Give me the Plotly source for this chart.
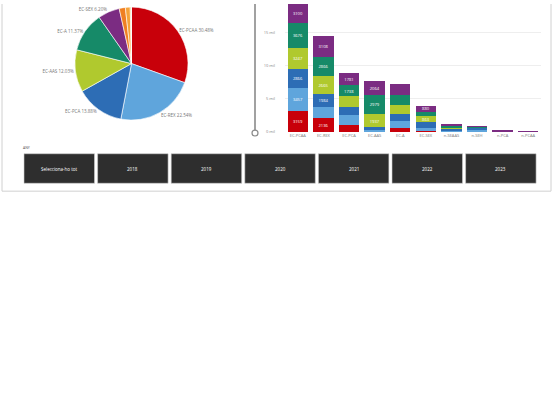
import plotly.graph_objects as go

W, H = 554, 401

categories = ["EC-PCAA", "EC-REX", "EC-PCA", "EC-AAS", "EC-A", "EC-SEX",
              "n-SEAAS", "n-SEH", "n-PCA", "n-PCAA"]
years = ["2018", "2019", "2020", "2021", "2022", "2023"]

v2018 = [3159, 2136, 1060, 0, 640, 90, 0, 0, 120, 0]
v2019 = [3457, 1667, 1457, 300, 1038, 450, 250, 300, 0, 0]
v2020 = [2866, 1984, 1317, 420, 1074, 964, 280, 380, 0, 0]
v2021 = [3247, 2665, 1527, 1937, 1263, 863, 150, 0, 0, 0]
v2022 = [3676, 2866, 1738, 2979, 1585, 720, 300, 150, 0, 0]
v2023 = [3100, 3108, 1781, 2064, 1675, 880, 150, 50, 90, 20]
series = [v2018, v2019, v2020, v2021, v2022, v2023]

year_colors = ["#c8000a", "#5fa5dc", "#2d6db5", "#b0c92e", "#168a68", "#7b2c82"]
pie_colors = ["#c8000a", "#5fa5dc", "#2d6db5", "#b0c92e", "#168a68", "#7b2c82",
              "#ef7f22", "#f5a33a", "#e9c46a", "#cccccc"]

slicer_labels = ["Selecciona-ho tot"] + years
y_ticks = [0, 5000, 10000, 15000]
y_tick_text = ["0 mil", "5 mil", "10 mil", "15 mil"]

totals = [sum(s[i] for s in series) for i in range(len(categories))]

def px_x(x):
    return x / W

def px_y(y):
    return 1 - y / H

FONT = "Open Sans"
fig = go.Figure()

# Pie
pie_tmpl = ["%{label} %{percent:.2%}"] * 6 + [""] * 4
fig.add_trace(go.Pie(
    labels=categories, values=totals, sort=False, direction="clockwise",
    rotation=0, marker=dict(colors=pie_colors, line=dict(color="white", width=0.6)),
    texttemplate=pie_tmpl, textposition="outside",
    textfont=dict(size=4.5, color="#777777", family=FONT),
    domain=dict(x=[px_x(75), px_x(188)], y=[px_y(118), px_y(3)]),
    showlegend=False, hoverinfo="skip",
))

# Stacked bars
for yr, vals, col in zip(years, series, year_colors):
    fig.add_trace(go.Bar(
        x=categories, y=vals, name=yr, marker=dict(color=col, line=dict(width=0)),
        texttemplate="%{y}", textposition="inside", insidetextanchor="middle",
        textfont=dict(size=4.5, color="white", family=FONT),
        xaxis="x", yaxis="y", showlegend=False,
    ))

fig.update_layout(
    width=W, height=H, margin=dict(l=0, r=0, t=0, b=0),
    paper_bgcolor="white", plot_bgcolor="white",
    barmode="stack", bargap=0.2, separators=".,",
    uniformtext=dict(minsize=4, mode="hide"),
    font=dict(family=FONT, size=5, color="#777777"),
    xaxis=dict(domain=[px_x(285), px_x(541)], showgrid=False, showline=False,
               tickfont=dict(size=4, color="#777777"), ticks="", fixedrange=True),
    yaxis=dict(domain=[px_y(130), px_y(0)], range=[0, 19300],
               tickvals=y_ticks, ticktext=y_tick_text, showgrid=True,
               gridcolor="#eeeeee", gridwidth=0.8, zeroline=False, showline=False,
               tickfont=dict(size=4, color="#888888"), ticks="",
               ticklabelstandoff=9),
)

shapes = []
# outer frame
shapes.append(dict(type="line", xref="paper", yref="paper", x0=px_x(2), x1=px_x(2),
                   y0=px_y(0), y1=px_y(190), line=dict(color="#d0d0d0", width=1)))
shapes.append(dict(type="line", xref="paper", yref="paper", x0=px_x(551), x1=px_x(551),
                   y0=px_y(0), y1=px_y(190), line=dict(color="#d0d0d0", width=1)))
shapes.append(dict(type="line", xref="paper", yref="paper", x0=px_x(2), x1=px_x(551),
                   y0=px_y(190), y1=px_y(190), line=dict(color="#d0d0d0", width=1)))
# zoom slider
shapes.append(dict(type="line", xref="paper", yref="paper", x0=px_x(255), x1=px_x(255),
                   y0=px_y(0), y1=px_y(128), line=dict(color="#8a8a8a", width=1.6)))
shapes.append(dict(type="circle", xref="paper", yref="paper", x0=px_x(252), x1=px_x(258),
                   y0=px_y(134), y1=px_y(128), line=dict(color="#8a8a8a", width=1.2),
                   fillcolor="white"))

annotations = [dict(text="ANY", x=px_x(21), y=px_y(146), xref="paper", yref="paper",
                    showarrow=False, xanchor="left", yanchor="middle",
                    font=dict(size=3.5, color="#555555", family=FONT))]
tile_w, step, x_start = 70.5, 73.6, 24
for i, lab in enumerate(slicer_labels):
    x0 = x_start + i * step
    shapes.append(dict(type="rect", xref="paper", yref="paper", x0=px_x(x0), x1=px_x(x0 + tile_w),
                       y0=px_y(182), y1=px_y(152), fillcolor="#2e2e2e",
                       line=dict(color="#cfcfcf", width=0.6)))
    annotations.append(dict(text=lab, x=px_x(x0 + tile_w / 2), y=px_y(167), xref="paper",
                            yref="paper", showarrow=False, xanchor="center", yanchor="middle",
                            font=dict(size=4.5, color="white", family=FONT)))

fig.update_layout(shapes=shapes, annotations=annotations)
fig.write_html("out.html", config={"displayModeBar": False},
               post_script="document.body.style.margin='0';")
